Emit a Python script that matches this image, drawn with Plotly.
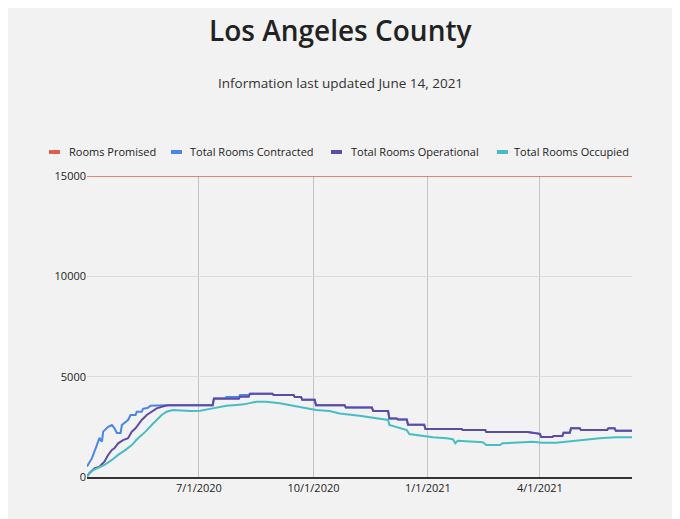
import plotly.graph_objects as go

# --- data ---
promised_dates = ["2020-04-02", "2021-06-14"]
promised_vals = [15000, 15000]

contracted_dates = [
    "2020-04-02", "2020-04-06", "2020-04-10", "2020-04-12", "2020-04-14", "2020-04-15",
    "2020-04-19", "2020-04-22", "2020-04-24", "2020-04-26", "2020-04-29", "2020-04-30",
    "2020-05-05", "2020-05-07", "2020-05-11", "2020-05-12", "2020-05-16", "2020-05-17",
    "2020-05-21", "2020-05-23", "2020-06-04", "2020-07-12", "2020-07-13", "2020-07-22",
    "2020-07-23", "2020-08-02", "2020-08-03", "2020-08-10", "2020-08-11", "2020-08-29",
    "2020-08-30", "2020-09-15", "2020-09-16", "2020-09-21", "2020-09-22", "2020-10-02",
    "2020-10-03", "2020-10-26", "2020-10-27", "2020-11-17", "2020-11-18", "2020-11-30",
    "2020-12-01", "2020-12-07", "2020-12-08", "2020-12-15", "2020-12-16", "2020-12-29",
    "2020-12-30", "2021-01-28", "2021-01-29", "2021-02-16", "2021-02-17", "2021-03-22",
    "2021-04-01", "2021-04-02", "2021-04-11", "2021-04-12", "2021-04-19", "2021-04-20",
    "2021-04-25", "2021-04-26", "2021-05-03", "2021-05-04", "2021-05-25", "2021-05-26",
    "2021-05-31", "2021-06-01", "2021-06-14",
]
contracted_vals = [
    520, 940, 1600, 1950, 1760, 2260,
    2500, 2590, 2440, 2190, 2190, 2590,
    2840, 3090, 3090, 3250, 3250, 3400,
    3450, 3550, 3580, 3580, 3920, 3920,
    3990, 3990, 4090, 4090, 4150, 4150,
    4090, 4090, 3990, 3990, 3850, 3850,
    3580, 3580, 3460, 3460, 3290, 3290,
    2920, 2920, 2860, 2860, 2600, 2600,
    2390, 2390, 2340, 2340, 2240, 2240,
    2150, 1990, 1990, 2040, 2040, 2210,
    2210, 2430, 2430, 2340, 2340, 2430,
    2430, 2300, 2300,
]

operational_dates = [
    "2020-04-02", "2020-04-04", "2020-04-08", "2020-04-12", "2020-04-16", "2020-04-19",
    "2020-04-22", "2020-04-24", "2020-04-27", "2020-05-01", "2020-05-05", "2020-05-08",
    "2020-05-11", "2020-05-13", "2020-05-16", "2020-05-20", "2020-05-24", "2020-05-28",
    "2020-06-01", "2020-06-06", "2020-07-12", "2020-07-13", "2020-08-02", "2020-08-03",
    "2020-08-10", "2020-08-11", "2020-08-29",
    "2020-08-30", "2020-09-15", "2020-09-16", "2020-09-21", "2020-09-22", "2020-10-02",
    "2020-10-03", "2020-10-26", "2020-10-27", "2020-11-17", "2020-11-18", "2020-11-30",
    "2020-12-01", "2020-12-07", "2020-12-08", "2020-12-15", "2020-12-16", "2020-12-29",
    "2020-12-30", "2021-01-28", "2021-01-29", "2021-02-16", "2021-02-17", "2021-03-22",
    "2021-04-01", "2021-04-02", "2021-04-11", "2021-04-12", "2021-04-19", "2021-04-20",
    "2021-04-25", "2021-04-26", "2021-05-03", "2021-05-04", "2021-05-25", "2021-05-26",
    "2021-05-31", "2021-06-01", "2021-06-14",
]
operational_vals = [
    30, 200, 430, 510, 760, 1100,
    1350, 1430, 1680, 1840, 1930, 2260,
    2430, 2590, 2840, 3090, 3250, 3420,
    3500, 3570, 3570, 3900, 3900, 4000,
    4000, 4150, 4150,
    4090, 4090, 3990, 3990, 3850, 3850,
    3580, 3580, 3460, 3460, 3290, 3290,
    2920, 2920, 2860, 2860, 2600, 2600,
    2390, 2390, 2340, 2340, 2240, 2240,
    2150, 1990, 1990, 2040, 2040, 2210,
    2210, 2430, 2430, 2340, 2340, 2430,
    2430, 2300, 2300,
]

occupied_dates = [
    "2020-04-02", "2020-04-04", "2020-04-07", "2020-04-11", "2020-04-16", "2020-04-22",
    "2020-04-27", "2020-05-03", "2020-05-08", "2020-05-13", "2020-05-19", "2020-05-24",
    "2020-05-28", "2020-06-01", "2020-06-05", "2020-06-10", "2020-06-24", "2020-07-02",
    "2020-07-12", "2020-07-23", "2020-07-31", "2020-08-06", "2020-08-16", "2020-08-24",
    "2020-09-04", "2020-09-15", "2020-09-25", "2020-10-03", "2020-10-14", "2020-10-22",
    "2020-11-07", "2020-11-23", "2020-11-30", "2020-12-01", "2020-12-07", "2020-12-15",
    "2020-12-17", "2020-12-25", "2021-01-05", "2021-01-16", "2021-01-21", "2021-01-23",
    "2021-01-25", "2021-02-14", "2021-02-17", "2021-02-28", "2021-03-02", "2021-03-26",
    "2021-04-03", "2021-04-14", "2021-04-28", "2021-05-11", "2021-05-19", "2021-06-01",
    "2021-06-14",
]
occupied_vals = [
    20, 180, 350, 460, 600, 850,
    1100, 1350, 1590, 1930, 2260, 2590,
    2840, 3090, 3250, 3340, 3290, 3300,
    3420, 3550, 3590, 3620, 3750, 3750,
    3670, 3550, 3450, 3340, 3290, 3170,
    3050, 2920, 2840, 2590, 2470, 2340,
    2140, 2060, 1980, 1930, 1880, 1680,
    1810, 1730, 1590, 1590, 1680, 1760,
    1710, 1710, 1810, 1880, 1930, 1980,
    1980,
]

tick_dates = ["2020-07-01", "2020-10-01", "2021-01-01", "2021-04-01"]
tick_labels = ["7/1/2020", "10/1/2020", "1/1/2021", "4/1/2021"]

series_names = ["Rooms Promised", "Total Rooms Contracted",
                "Total Rooms Operational", "Total Rooms Occupied"]
series_colors = ["#e0604f", "#4a86e8", "#5e4ba6", "#46bdc6"]

# page has an 8px body margin, so the plot box is shifted by that
OFF = 8
PL, PR, PT, PB = 87, 632, 176, 477   # target plot box in window pixels
PW, PH = PR - PL, PB - PT


def px_x(x):
    return (x - PL) / PW


def px_y(y):
    return (PB - y) / PH


fig = go.Figure()
fig.add_trace(go.Scatter(x=promised_dates, y=promised_vals, mode="lines",
                         name=series_names[0], line=dict(color=series_colors[0], width=1.5)))
fig.add_trace(go.Scatter(x=contracted_dates, y=contracted_vals, mode="lines",
                         name=series_names[1], line=dict(color=series_colors[1], width=2)))
fig.add_trace(go.Scatter(x=operational_dates, y=operational_vals, mode="lines",
                         name=series_names[2], line=dict(color=series_colors[2], width=2)))
fig.add_trace(go.Scatter(x=occupied_dates, y=occupied_vals, mode="lines",
                         name=series_names[3], line=dict(color=series_colors[3], width=2)))

# hand made legend: short thick swatch + label
legend_marks = [49, 171, 331, 497]
legend_texts = [67, 188, 349, 512]
shapes = []
annotations = []
for name, col, mx, tx in zip(series_names, series_colors, legend_marks, legend_texts):
    shapes.append(dict(type="line", xref="paper", yref="paper",
                       x0=px_x(mx), x1=px_x(mx + 11), y0=px_y(152), y1=px_y(152),
                       line=dict(color=col, width=4)))
    annotations.append(dict(text=name, x=px_x(tx), y=px_y(152), xref="paper", yref="paper",
                            xanchor="left", yanchor="middle", showarrow=False,
                            font=dict(size=11, color="#222222")))

annotations.append(dict(text="Los Angeles County", x=px_x(340), y=px_y(30),
                        xref="paper", yref="paper", yanchor="middle", showarrow=False,
                        font=dict(size=28, color="#222222", weight=600)))
annotations.append(dict(text="Information last updated June 14, 2021", x=px_x(340), y=px_y(83),
                        xref="paper", yref="paper", yanchor="middle", showarrow=False,
                        font=dict(size=13.5, color="#333333")))

fig.update_layout(
    width=680, height=519,
    margin=dict(l=PL - OFF, r=680 - PR + OFF, t=PT - OFF, b=519 - PB + OFF),
    paper_bgcolor="#f2f2f2", plot_bgcolor="#f2f2f2",
    font=dict(family="Open Sans", size=11, color="#222222"),
    showlegend=False,
    shapes=shapes,
    annotations=annotations,
)

fig.update_xaxes(
    type="date", range=["2020-04-02", "2021-06-14"],
    tickvals=tick_dates, ticktext=tick_labels,
    showgrid=True, gridcolor="#c4c4c4", gridwidth=1,
    showline=True, linecolor="#333333", linewidth=2,
    ticks="", zeroline=False,
)
fig.update_yaxes(
    range=[0, 15000], tickvals=[0, 5000, 10000, 15000],
    ticktext=["0", "5000", "10000", "15000"],
    showgrid=True, gridcolor="#dadada", gridwidth=1,
    zeroline=False, showline=False, ticks="",
)

fig.write_html("out.html")
